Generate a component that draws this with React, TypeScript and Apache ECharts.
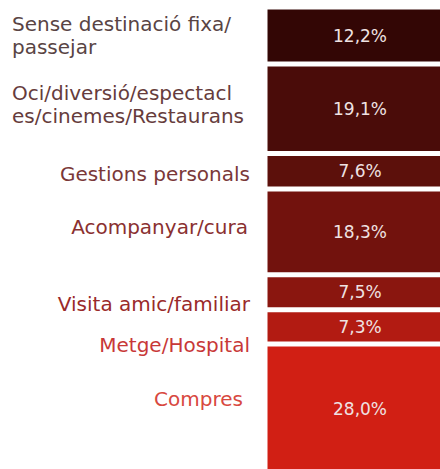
import React, { useEffect, useRef } from "react";
import * as echarts from "echarts";

const categories = [
  "Sense destinació fixa/\npassejar",
  "Oci/diversió/espectacl\nes/cinemes/Restaurans",
  "Gestions personals",
  "Acompanyar/cura",
  "Visita amic/familiar",
  "Metge/Hospital",
  "Compres",
];
const values = [12.2, 19.1, 7.6, 18.3, 7.5, 7.3, 28.0];

const barColors = ["#330605", "#4a0c09", "#5c100b", "#72120d", "#8a160f", "#b21b12", "#d11f14"];
const nameColors = ["#594444", "#663c3c", "#7a3838", "#8a3030", "#9a2a2a", "#c83838", "#d84840"];
const nameAlign = ["left", "left", "right", "right", "right", "right", "right"];
const nameNudge: [number, number][] = [[0, 0], [0, -4], [0, 3], [-2, -5], [0, 12], [0, 18], [-7, -10]];

export default function App() {
  const ref = useRef<HTMLDivElement>(null);
  useEffect(() => {
    document.body.style.margin = "0";
    document.body.style.overflow = "hidden";
    if (!ref.current) return;
    const chart = echarts.init(ref.current, null, { renderer: "svg" });
    const font = "DejaVu Sans";
    const barSeries = values.map((v, i) => ({
      type: "bar",
      name: categories[i],
      stack: "bar",
      xAxisIndex: 1,
      yAxisIndex: 1,
      barWidth: "100%",
      data: [v],
      itemStyle: { color: barColors[i], borderColor: "#ffffff", borderWidth: 2.5 },
      label: {
        show: true,
        position: "inside",
        color: "#efe2e2",
        fontFamily: font,
        fontSize: 17,
        formatter: (p: any) => p.value.toFixed(1).replace(".", ",") + "%",
      },
    }));
    const nameSeries = values.map((v, i) => ({
      type: "bar",
      name: "n" + i,
      stack: "names",
      xAxisIndex: 0,
      yAxisIndex: 0,
      barWidth: "100%",
      data: [v],
      itemStyle: { color: "rgba(0,0,0,0)" },
      label: {
        show: true,
        position: nameAlign[i] === "left" ? "insideLeft" : "insideRight",
        distance: 0,
        offset: nameNudge[i],
        align: nameAlign[i],
        color: nameColors[i],
        fontFamily: font,
        fontSize: 20,
        lineHeight: 23,
        formatter: () => categories[i],
      },
    }));
    chart.setOption({
      animation: false,
      grid: [
        { left: 12, top: 7, width: 238, height: 468 },
        { left: 265, top: 7, width: 190, height: 468 },
      ],
      xAxis: [
        { type: "category", gridIndex: 0, data: ["a"], show: false },
        { type: "category", gridIndex: 1, data: ["a"], show: false },
      ],
      yAxis: [
        { type: "value", gridIndex: 0, min: 0, max: 100, inverse: true, show: false },
        { type: "value", gridIndex: 1, min: 0, max: 100, inverse: true, show: false },
      ],
      series: [...barSeries, ...nameSeries],
    });
    return () => chart.dispose();
  }, []);
  return (
    <div
      ref={ref}
      style={{ position: "fixed", left: 0, top: 0, width: 470, height: 490, background: "#ffffff" }}
    />
  );
}
